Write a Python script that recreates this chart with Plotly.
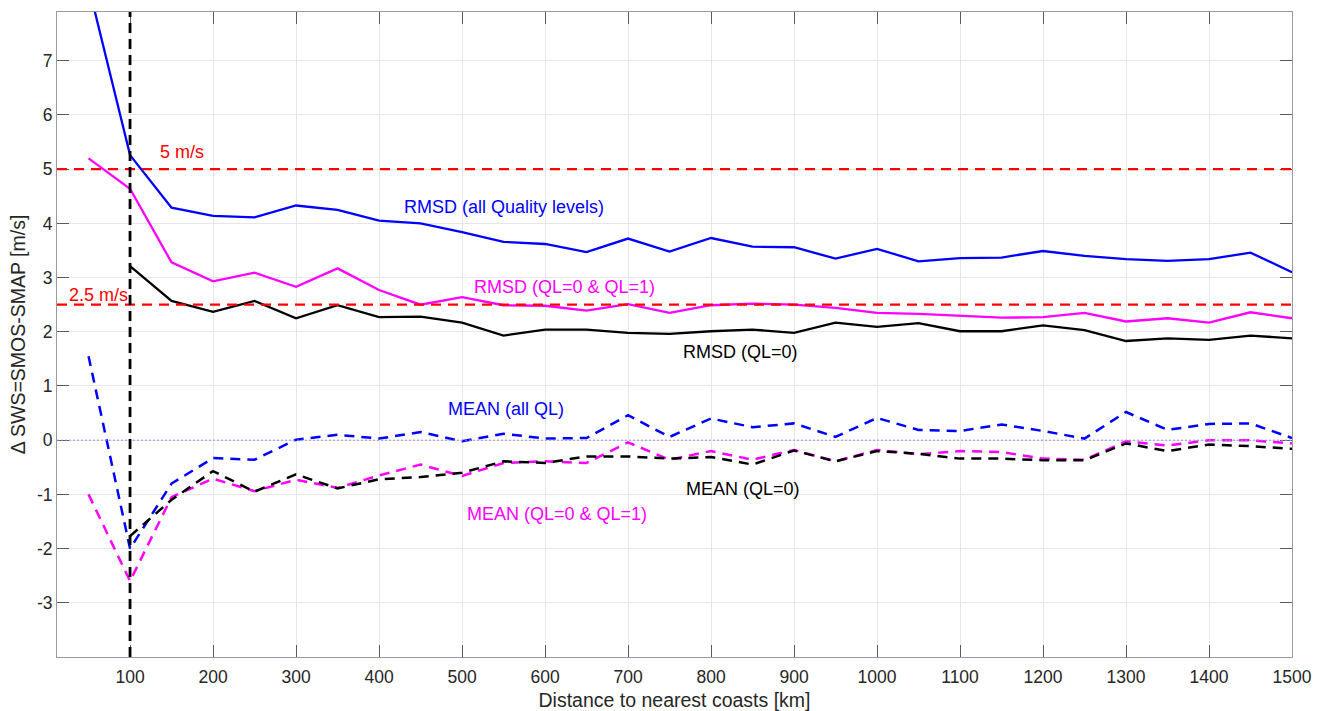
import plotly.graph_objects as go

# Distance bins (km)
dist = [50, 100, 150, 200, 250, 300, 350, 400, 450, 500, 550, 600, 650, 700, 750,
        800, 850, 900, 950, 1000, 1050, 1100, 1150, 1200, 1250, 1300, 1350, 1400, 1450, 1500]
dist_ql0 = dist[1:]

# RMSD of SMOS-SMAP wind speed difference (m/s)
rmsd_all = [8.38, 5.26, 4.29, 4.14, 4.11, 4.33, 4.25, 4.05, 4.00, 3.84, 3.66, 3.62, 3.47, 3.72, 3.48,
            3.73, 3.57, 3.56, 3.35, 3.53, 3.30, 3.36, 3.37, 3.49, 3.40, 3.34, 3.31, 3.34, 3.46, 3.10]
rmsd_ql01 = [5.20, 4.64, 3.28, 2.93, 3.09, 2.83, 3.17, 2.77, 2.50, 2.64, 2.49, 2.48, 2.39, 2.51, 2.35,
             2.49, 2.52, 2.50, 2.44, 2.35, 2.33, 2.29, 2.26, 2.27, 2.35, 2.19, 2.25, 2.17, 2.36, 2.25]
rmsd_ql0 = [3.21, 2.57, 2.37, 2.57, 2.25, 2.49, 2.27, 2.28, 2.17, 1.93, 2.04, 2.04, 1.98, 1.96,
            2.01, 2.04, 1.98, 2.17, 2.09, 2.16, 2.01, 2.01, 2.12, 2.03, 1.83, 1.88, 1.85, 1.93, 1.88]

# Mean difference (m/s)
mean_all = [1.55, -2.00, -0.80, -0.33, -0.36, 0.01, 0.10, 0.03, 0.15, -0.02, 0.12, 0.03, 0.04, 0.46, 0.06,
            0.40, 0.24, 0.31, 0.06, 0.41, 0.19, 0.17, 0.29, 0.17, 0.03, 0.52, 0.19, 0.30, 0.31, 0.04]
mean_ql01 = [-1.00, -2.60, -1.05, -0.71, -0.94, -0.73, -0.88, -0.65, -0.45, -0.66, -0.42, -0.39, -0.42, -0.04, -0.36,
             -0.20, -0.36, -0.18, -0.39, -0.18, -0.26, -0.20, -0.22, -0.34, -0.36, -0.02, -0.10, 0.00, 0.00, -0.06]
mean_ql0 = [-1.77, -1.10, -0.57, -0.95, -0.63, -0.89, -0.72, -0.68, -0.60, -0.39, -0.42, -0.30, -0.30, -0.34,
            -0.31, -0.45, -0.19, -0.39, -0.20, -0.25, -0.34, -0.34, -0.37, -0.37, -0.06, -0.20, -0.08, -0.11, -0.16]

thresholds = [5.0, 2.5]
threshold_labels = ["5 m/s", "2.5 m/s"]
coast_cutoff_km = 100

x_ticks = list(range(100, 1501, 100))
y_ticks = list(range(-3, 8))

FONT = "Liberation Sans, Arial, sans-serif"
DASH = "10px,7px"

fig = go.Figure()

series = [
    (dist, rmsd_all, "#0000ff", "solid", 2.3),
    (dist, rmsd_ql01, "#ff00ff", "solid", 2.3),
    (dist_ql0, rmsd_ql0, "#000000", "solid", 2.3),
    (dist, mean_all, "#0000ff", DASH, 2.5),
    (dist, mean_ql01, "#ff00ff", DASH, 2.5),
    (dist_ql0, mean_ql0, "#000000", DASH, 2.5),
]
for xs, ys, col, dash, w in series:
    fig.add_trace(go.Scatter(x=xs, y=ys, mode="lines", showlegend=False, hoverinfo="skip",
                             line=dict(color=col, width=w, dash=dash)))

# zero reference
fig.add_hline(y=0, line=dict(color="#8f8fff", width=1, dash="2px,2px"))

# threshold lines
for t in thresholds:
    fig.add_hline(y=t, line=dict(color="#ff0000", width=2.2, dash=DASH))

# coast distance cutoff
fig.add_vline(x=coast_cutoff_km, line=dict(color="#000000", width=2.8, dash="10px,6px"))

labels = [
    (163, 5.31, threshold_labels[0], "#ff0000"),
    (62, 2.68, threshold_labels[1], "#ff0000"),
    (550, 4.31, "RMSD (all Quality levels)", "#0000ff"),
    (623, 2.83, "RMSD (QL=0 & QL=1)", "#ff00ff"),
    (835, 1.63, "RMSD (QL=0)", "#000000"),
    (553, 0.58, "MEAN (all QL)", "#0000ff"),
    (615, -1.37, "MEAN (QL=0 & QL=1)", "#ff00ff"),
    (838, -0.90, "MEAN (QL=0)", "#000000"),
]
for x, y, txt, col in labels:
    fig.add_annotation(x=x, y=y, text=txt, showarrow=False,
                       font=dict(family=FONT, size=18, color=col),
                       xanchor="center", yanchor="middle")

axis_common = dict(showline=True, linecolor="#9a9a9a", linewidth=1, mirror="ticks",
                   ticks="inside", ticklen=12, tickcolor="#5a5a5a", tickwidth=1,
                   showgrid=True, gridcolor="#e6e6e6", gridwidth=1, zeroline=False,
                   automargin=False,
                   tickfont=dict(family=FONT, size=17.5, color="#262626"))

fig.update_xaxes(range=[12, 1500], tickvals=x_ticks, ticktext=[str(v) for v in x_ticks],
                 ticklabelstandoff=4,
                 title=dict(text="Distance to nearest coasts [km]",
                            font=dict(family=FONT, size=19.5, color="#262626"), standoff=8),
                 **axis_common)
fig.update_yaxes(range=[-4, 7.9], tickvals=y_ticks, ticktext=[str(v) for v in y_ticks],
                 title=dict(text="\u0394 SWS=SMOS-SMAP [m/s]",
                            font=dict(family=FONT, size=19.5, color="#262626"), standoff=6),
                 **axis_common)

fig.update_layout(width=1327, height=711, margin=dict(l=57, r=35, t=12, b=54),
                  paper_bgcolor="white", plot_bgcolor="white",
                  font=dict(family=FONT))

fig.write_html("out.html")
